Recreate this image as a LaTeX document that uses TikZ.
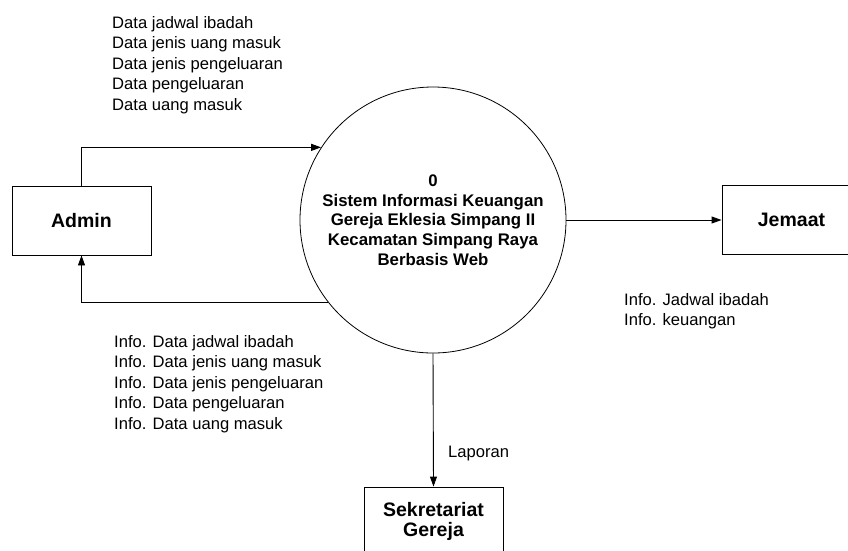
\documentclass[tikz,border=0pt]{standalone}
\usepackage{fontspec}
\setmainfont{Liberation Sans}
\usetikzlibrary{arrows.meta,shapes}

\begin{document}
\begin{tikzpicture}[x=1pt,y=-1pt,
    entity/.style={draw,line width=0.9pt,minimum width=139pt,minimum height=69pt,inner sep=0pt,align=center,font=\fontsize{19.5}{20.5}\selectfont\bfseries},
    process/.style={draw,circle,line width=0.8pt,minimum size=266pt,inner sep=0pt,align=center,font=\fontsize{16.8}{19.7}\selectfont\bfseries},
    flow/.style={line width=0.9pt,-{Triangle[length=10pt,width=7pt]}},
    lbl/.style={inner sep=0pt,align=left,font=\fontsize{16.6}{20.5}\selectfont}]
    \useasboundingbox (0,0) rectangle (848,550);
    \clip (0,0) rectangle (848,550);

    % process
    \node[process] (proses) at (433,220) {0\\Sistem Informasi Keuangan\\Gereja Eklesia Simpang II\\Kecamatan Simpang Raya\\Berbasis Web};

    % external entities
    \node[entity] (admin) at (81.5,220.5) {Admin};
    \node[entity] (jemaat) at (791.5,220) {Jemaat};
    \node[entity] (sekretariat) at (433.5,521.5) {Sekretariat\\Gereja};

    % data flows
    \draw[flow] (admin.north) |- (proses.147.7);
    \draw[flow] (proses.218.1) -| (admin.south);
    \draw[flow] (proses.east) -- (jemaat.west);
    \draw[flow] (proses.south) -- (sekretariat.north);

    % flow labels
    \node[lbl,anchor=north west] (datamasuk) at (112,16) {Data jadwal ibadah\\Data jenis uang masuk\\Data jenis pengeluaran\\Data pengeluaran\\Data uang masuk};
    \node[lbl,anchor=north west] (infoadmin) at (114,335) {Info. Data jadwal ibadah\\Info. Data jenis uang masuk\\Info. Data jenis pengeluaran\\Info. Data pengeluaran\\Info. Data uang masuk};
    \node[lbl,anchor=north west] (infojemaat) at (624,293) {Info. Jadwal ibadah\\Info. keuangan};
    \node[lbl,anchor=base west] (laporan) at (448,457) {Laporan};
\end{tikzpicture}
\end{document}
